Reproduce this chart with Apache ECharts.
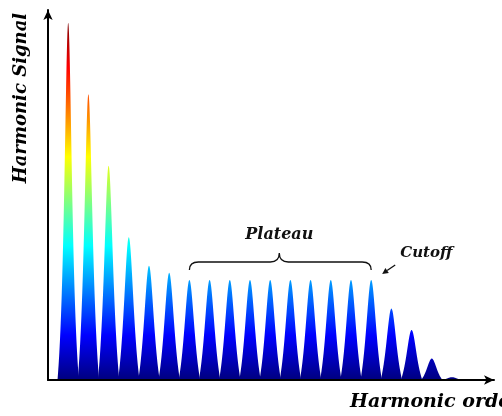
<!DOCTYPE html>
<html><head><meta charset="utf-8">
<script src="https://cdn.jsdelivr.net/npm/echarts@6/dist/echarts.min.js"></script>
<style>html,body{margin:0;padding:0;background:#fff}#c{width:502px;height:416px}</style>
</head><body><div id="c"></div>
<script>
// ---- data ----
const harmonicOrders = [1,2,3,4,5,6,7,8,9,10,11,12,13,14,15,16,17,18,19,20];
const harmonicSignal = [100,80,60,40,32,30,28,28,28,28,28,28,28,28,28,28,20,14,6,0.8];
const plateauRange = [7, 16];
const cutoffOrder = 16;
const axisTitles = ['Harmonic order', 'Harmonic Signal'];
const annotationLabels = ['Plateau', 'Cutoff'];

// ---- styles ----
const FONT = '"DejaVu Serif", serif';
const jetStops = [
  {offset:0, color:'#00007f'},
  {offset:0.125, color:'#0000ff'},
  {offset:0.375, color:'#00ffff'},
  {offset:0.625, color:'#ffff00'},
  {offset:0.875, color:'#ff0000'},
  {offset:1, color:'#7f0000'}
];
const PEAK_HALF = 0.53, PEAK_STEPS = 80;
const yTop = Math.max(...harmonicSignal);

const chart = echarts.init(document.getElementById('c'), null, {renderer:'canvas'});

// peak line-shape (style): shifted Lorentzian, slightly sharper for the tallest peaks
function peakShape(dx, h) {
  const t = Math.min(1, Math.max(0, (h - 28) / 72));
  const g = 0.35 - 0.1 * t;
  const L = x => 1 / (1 + (x / g) * (x / g));
  const e = L(PEAK_HALF);
  return Math.max(0, (L(dx) - e) / (1 - e));
}

function renderPeak(params, api) {
  const x0 = api.value(0), h = api.value(1);
  const base = api.coord([0, 0]);
  const top = api.coord([0, yTop]);
  const pts = [];
  for (let i = 0; i <= PEAK_STEPS; i++) {
    const dx = -PEAK_HALF + 2 * PEAK_HALF * i / PEAK_STEPS;
    pts.push(api.coord([x0 + dx, h * peakShape(dx, h)]));
  }
  return {
    type: 'polygon',
    shape: {points: pts},
    style: {fill: new echarts.graphic.LinearGradient(0, base[1], 0, top[1], jetStops, true)}
  };
}

function renderNotes(params, api) {
  const pL = api.coord([api.value(0), api.value(2)]);
  const pR = api.coord([api.value(1), api.value(2)]);
  const pC = api.coord([api.value(3), api.value(4)]);
  const xL = pL[0], xR = pR[0], xm = (xL + xR) / 2 - 1;
  const yb = pL[1] - 10, yl = pL[1] - 18, yc = pL[1] - 27;
  const brace = `M${xL},${yb} Q${xL},${yl} ${xL+9},${yl} L${xm-9},${yl} Q${xm},${yl} ${xm},${yc} ` +
                `Q${xm},${yl} ${xm+9},${yl} L${xR-9},${yl} Q${xR},${yl} ${xR},${yb}`;
  const tail = [pC[0] + 24, pC[1] - 15], tip = [pC[0] + 11, pC[1] - 6];
  const dx = tip[0] - tail[0], dy = tip[1] - tail[1], L = Math.hypot(dx, dy);
  const ux = dx / L, uy = dy / L, hl = 6, hw = 3;
  const bx = tip[0] - ux * hl, by = tip[1] - uy * hl;
  return {
    type: 'group',
    children: [
      {type:'path', shape:{pathData: brace}, style:{fill:'none', stroke:'#111', lineWidth:1.3}},
      {type:'text', style:{text: annotationLabels[0], x: xm, y: pL[1] - 45, align:'center', verticalAlign:'middle',
        font: 'italic bold 16px ' + FONT, fill:'#111'}},
      {type:'line', shape:{x1: tail[0], y1: tail[1], x2: bx, y2: by}, style:{stroke:'#111', lineWidth:1.3}},
      {type:'polygon', shape:{points:[tip, [bx - uy*hw, by + ux*hw], [bx + uy*hw, by - ux*hw]]}, style:{fill:'#111'}},
      {type:'text', style:{text: annotationLabels[1], x: pC[0] + 29, y: pC[1] - 27, align:'left', verticalAlign:'middle',
        font: 'italic bold 15px ' + FONT, fill:'#111'}}
    ]
  };
}

const peakData = harmonicOrders.map((o, i) => [o, harmonicSignal[i]]);
const plateauIdx = harmonicOrders.indexOf(plateauRange[0]);
const cutIdx = harmonicOrders.indexOf(cutoffOrder);

chart.setOption({
  animation: false,
  backgroundColor: '#fff',
  grid: {left: 48, right: 8, top: 10, bottom: 36},
  xAxis: {
    type: 'value', min: 0, max: 22.08, z: 5,
    axisLine: {show: true, lineStyle: {color: '#000', width: 2}, symbol: ['none', 'arrow'], symbolSize: [7, 10]},
    axisTick: {show: false}, axisLabel: {show: false}, splitLine: {show: false}
  },
  yAxis: {
    type: 'value', min: 0, max: 103.6, z: 5,
    axisLine: {show: true, lineStyle: {color: '#000', width: 2}, symbol: ['none', 'arrow'], symbolSize: [7, 10]},
    axisTick: {show: false}, axisLabel: {show: false}, splitLine: {show: false}
  },
  series: [
    {type: 'custom', renderItem: renderPeak, data: peakData, z: 2, silent: true},
    {type: 'custom', renderItem: renderNotes, z: 3, silent: true,
     data: [[plateauRange[0], plateauRange[1], harmonicSignal[plateauIdx], cutoffOrder, harmonicSignal[cutIdx]]]}
  ],
  graphic: [
    {type: 'text', x: 350, y: 402, style: {text: axisTitles[0], font: 'italic bold 19px ' + FONT, fill: '#000',
      align: 'left', verticalAlign: 'middle'}},
    {type: 'text', x: 21, y: 98, rotation: Math.PI / 2, style: {text: axisTitles[1], font: 'italic bold 18px ' + FONT,
      fill: '#000', align: 'center', verticalAlign: 'middle'}}
  ]
});
</script></body></html>
